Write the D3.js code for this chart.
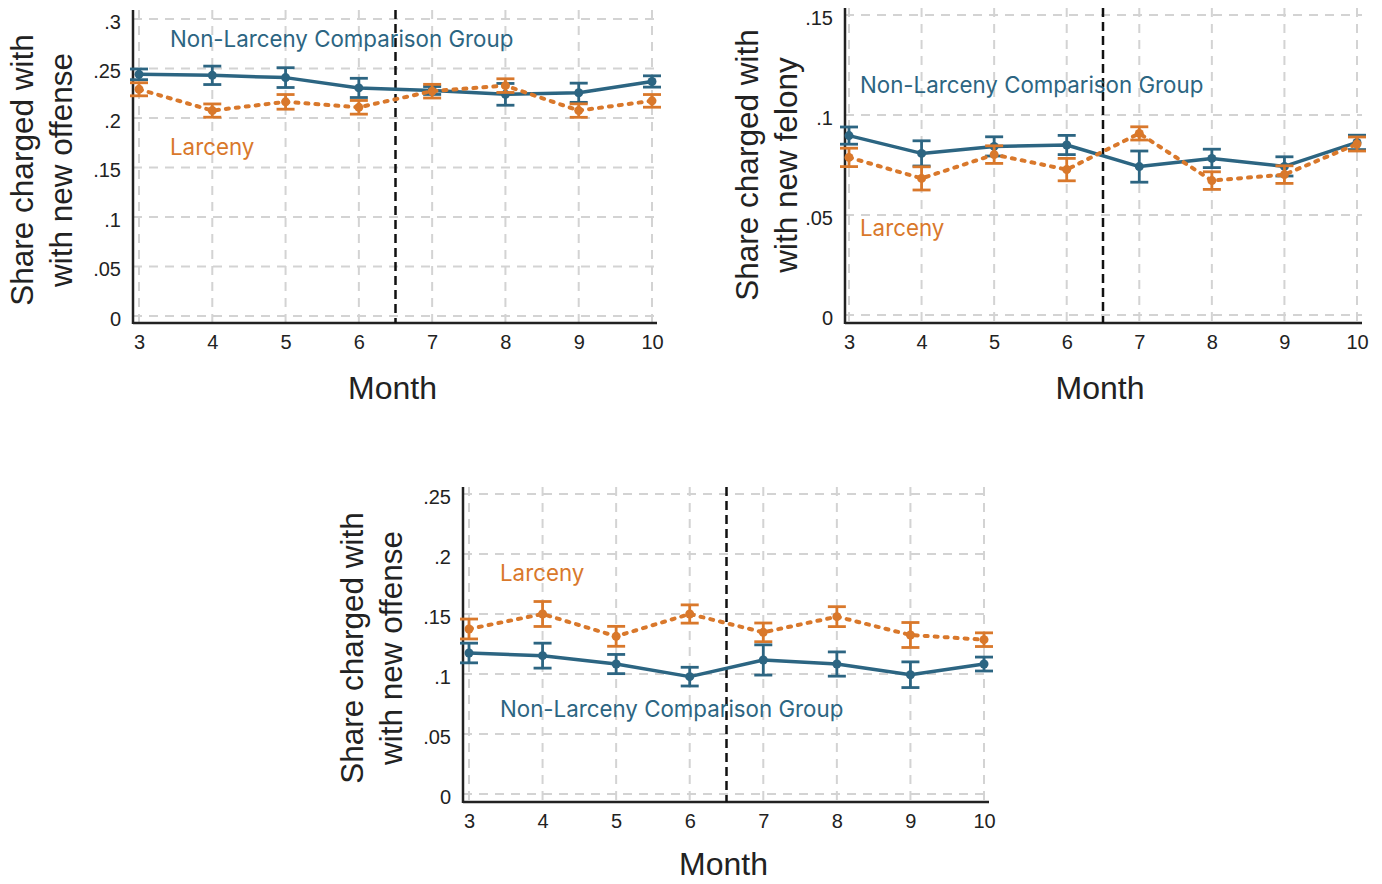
<!DOCTYPE html>
<html>
<head>
<meta charset="utf-8">
<script src="https://cdn.jsdelivr.net/npm/d3@7"></script>
<style>
  body { margin: 0; background: #fff; }
  svg { display: block; }
</style>
</head>
<body>
<svg id="chart" width="1382" height="884"></svg>
<script>
// months on the x axis
var months = [3, 4, 5, 6, 7, 8, 9, 10];

// panel 1: any new offense
var p1Larceny    = [0.229, 0.2075, 0.2163, 0.2108, 0.2271, 0.2327, 0.2075, 0.2173];
var p1LarcenyErr = [0.0066, 0.0067, 0.0074, 0.0069, 0.0069, 0.0069, 0.0068, 0.0064];
var p1Other      = [0.2441, 0.2431, 0.2408, 0.2304, 0.2278, 0.2239, 0.2255, 0.2369];
var p1OtherErr   = [0.0054, 0.0093, 0.0100, 0.0097, 0.0040, 0.0110, 0.0097, 0.0057];
var p1Ticks = [0, 0.05, 0.1, 0.15, 0.2, 0.25, 0.3];

// panel 2: new felony
var p2Larceny    = [0.0788, 0.0683, 0.0802, 0.0727, 0.0908, 0.0672, 0.0702, 0.0855];
var p2LarcenyErr = [0.0046, 0.0058, 0.0044, 0.0056, 0.0033, 0.0044, 0.0044, 0.0035];
var p2Other      = [0.0897, 0.0808, 0.0843, 0.0850, 0.0742, 0.0783, 0.0743, 0.0863];
var p2OtherErr   = [0.0043, 0.0063, 0.0048, 0.0048, 0.0078, 0.0046, 0.0048, 0.0036];
var p2Ticks = [0, 0.05, 0.1, 0.15];

// panel 3: new offense
var p3Larceny    = [0.1375, 0.1500, 0.1314, 0.1500, 0.1347, 0.1478, 0.1325, 0.1286];
var p3LarcenyErr = [0.0083, 0.0104, 0.0083, 0.0076, 0.0078, 0.0083, 0.0104, 0.0057];
var p3Other      = [0.1175, 0.1153, 0.1083, 0.0978, 0.1117, 0.1083, 0.0994, 0.1083];
var p3OtherErr   = [0.0082, 0.0104, 0.0080, 0.0078, 0.0126, 0.0101, 0.0107, 0.0058];
var p3Ticks = [0, 0.05, 0.1, 0.15, 0.2, 0.25];

var blue = "#2c6582"
var orange = "#d9782b"
var tickFont = "'Liberation Sans', Arial, sans-serif"
var labelFont = "Inter, 'Open Sans', sans-serif"

var fmt = function(v){
    if (v === 0) return "0";
    return d3.format("")(+v.toFixed(2)).replace(/^0/, "");
}

var svg = d3.select("#chart")

var drawPanel = function(cfg)
{
    var g = svg.append("g")
    var xScale = d3.scaleLinear().domain([3, 10]).range([cfg.x0, cfg.x1])
    var yScale = d3.scaleLinear().domain([0, cfg.ymax]).range([cfg.y0, cfg.yTop])

    // grid
    g.selectAll(".hgrid").data(cfg.ticks).enter().append("line")
        .attr("x1", cfg.axisX).attr("x2", cfg.x1 + 5)
        .attr("y1", function(d){ return yScale(d); })
        .attr("y2", function(d){ return yScale(d); })
        .attr("stroke", "#d3d3d3").attr("stroke-width", 2)
        .attr("stroke-dasharray", "9,7")
    g.selectAll(".vgrid").data(months).enter().append("line")
        .attr("x1", function(d){ return xScale(d); })
        .attr("x2", function(d){ return xScale(d); })
        .attr("y1", cfg.axisTop).attr("y2", cfg.axisY)
        .attr("stroke", "#d3d3d3").attr("stroke-width", 2)
        .attr("stroke-dasharray", "9,7")

    // y axis via d3 axis, then restyle
    var yAxis = d3.axisLeft(yScale).tickValues(cfg.ticks).tickFormat(fmt).tickSize(0).tickPadding(12)
    var ya = g.append("g").attr("transform", "translate(" + cfg.axisX + ",0)").call(yAxis)
    ya.select(".domain").remove()
    ya.selectAll("text").attr("font-size", 20).attr("font-family", tickFont).attr("fill", "#222")
        .attr("dy", "0.45em")

    var xAxis = d3.axisBottom(xScale).tickValues(months).tickFormat(d3.format("d")).tickSize(0).tickPadding(12)
    var xa = g.append("g").attr("transform", "translate(0," + cfg.axisY + ")").call(xAxis)
    xa.select(".domain").remove()
    xa.selectAll("text").attr("font-size", 20).attr("font-family", tickFont).attr("fill", "#222")

    g.append("line").attr("x1", cfg.axisX).attr("x2", cfg.axisX)
        .attr("y1", cfg.axisTop).attr("y2", cfg.axisY + 1)
        .attr("stroke", "#222").attr("stroke-width", 2.5)
    g.append("line").attr("x1", cfg.axisX).attr("x2", cfg.x1 + 5)
        .attr("y1", cfg.axisY).attr("y2", cfg.axisY)
        .attr("stroke", "#222").attr("stroke-width", 2.5)

    // cutoff line
    g.append("line").attr("x1", xScale(6.5)).attr("x2", xScale(6.5))
        .attr("y1", cfg.axisTop).attr("y2", cfg.axisY)
        .attr("stroke", "#111").attr("stroke-width", 2.5)
        .attr("stroke-dasharray", "9,5")

    var series = [
        {vals: cfg.other, err: cfg.otherErr, color: blue, dash: null},
        {vals: cfg.larceny, err: cfg.larcenyErr, color: orange, dash: "3,7"}
    ]
    if (cfg.larcenyFirst) series.reverse()

    series.forEach(function(s){
        var pts = months.map(function(m, i){ return {m: m, v: s.vals[i], e: s.err[i]}; })
        var line = d3.line().x(function(d){ return xScale(d.m); }).y(function(d){ return yScale(d.v); })
        var p = g.append("path").datum(pts).attr("d", line)
            .attr("fill", "none").attr("stroke", s.color).attr("stroke-width", s.dash ? 4 : 3.5)
            .attr("stroke-linecap", "round").attr("stroke-linejoin", "round")
        if (s.dash) p.attr("stroke-dasharray", s.dash)

        var eb = g.append("g").selectAll("g").data(pts).enter().append("g")
            .attr("stroke", s.color).attr("stroke-width", 2.8)
        eb.append("line")
            .attr("x1", function(d){ return xScale(d.m); }).attr("x2", function(d){ return xScale(d.m); })
            .attr("y1", function(d){ return yScale(d.v - d.e); }).attr("y2", function(d){ return yScale(d.v + d.e); })
        eb.append("line")
            .attr("x1", function(d){ return xScale(d.m) - 9; }).attr("x2", function(d){ return xScale(d.m) + 9; })
            .attr("y1", function(d){ return yScale(d.v + d.e); }).attr("y2", function(d){ return yScale(d.v + d.e); })
        eb.append("line")
            .attr("x1", function(d){ return xScale(d.m) - 9; }).attr("x2", function(d){ return xScale(d.m) + 9; })
            .attr("y1", function(d){ return yScale(d.v - d.e); }).attr("y2", function(d){ return yScale(d.v - d.e); })
        g.append("g").selectAll("circle").data(pts).enter().append("circle")
            .attr("cx", function(d){ return xScale(d.m); })
            .attr("cy", function(d){ return yScale(d.v); })
            .attr("r", 4.5).attr("fill", s.color)
    })

    // in-plot labels
    g.append("text").text("Non-Larceny Comparison Group")
        .attr("x", cfg.labelX).attr("y", cfg.otherLabelY)
        .attr("font-family", labelFont).attr("font-size", 22.3).attr("fill", blue)
        .attr("dominant-baseline", "middle")
    g.append("text").text("Larceny")
        .attr("x", cfg.labelX).attr("y", cfg.larcenyLabelY)
        .attr("font-family", labelFont).attr("font-size", 22.3).attr("fill", orange)
        .attr("dominant-baseline", "middle")

    // axis titles
    g.append("text").text("Month")
        .attr("x", (cfg.x0 + cfg.x1) / 2 - 3).attr("y", cfg.monthY)
        .attr("text-anchor", "middle").attr("dominant-baseline", "middle")
        .attr("font-family", tickFont).attr("font-size", 32).attr("fill", "#222")
    var yt = g.append("text")
        .attr("transform", "translate(" + cfg.titleX + "," + cfg.titleY + ") rotate(-90)")
        .attr("text-anchor", "middle")
        .attr("font-family", tickFont).attr("font-size", 31.5).attr("fill", "#222")
    yt.append("tspan").attr("x", 0).attr("dy", 0).text("Share charged with")
    yt.append("tspan").attr("x", 0).attr("dy", 39).text(cfg.title2)
}

drawPanel({
    x0: 139, x1: 652, axisX: 133, axisY: 323, axisTop: 10,
    y0: 316, yTop: 19, ymax: 0.3, ticks: p1Ticks,
    larceny: p1Larceny, larcenyErr: p1LarcenyErr, other: p1Other, otherErr: p1OtherErr,
    labelX: 170, otherLabelY: 41, larcenyLabelY: 149,
    monthY: 391, titleX: 33, titleY: 170, title2: "with new offense"
})

drawPanel({
    x0: 849, x1: 1357, axisX: 845, axisY: 323, axisTop: 8,
    y0: 315, yTop: 15, ymax: 0.15, ticks: p2Ticks,
    larceny: p2Larceny, larcenyErr: p2LarcenyErr, other: p2Other, otherErr: p2OtherErr,
    labelX: 860, otherLabelY: 87, larcenyLabelY: 230,
    monthY: 391, titleX: 758, titleY: 165, title2: "with new felony"
})

drawPanel({
    x0: 469, x1: 984, axisX: 463, axisY: 802, axisTop: 487,
    y0: 794, yTop: 494, ymax: 0.25, ticks: p3Ticks, larcenyFirst: true,
    larceny: p3Larceny, larcenyErr: p3LarcenyErr, other: p3Other, otherErr: p3OtherErr,
    labelX: 500, otherLabelY: 711, larcenyLabelY: 575,
    monthY: 867, titleX: 363, titleY: 648, title2: "with new offense"
})
</script>
</body>
</html>
